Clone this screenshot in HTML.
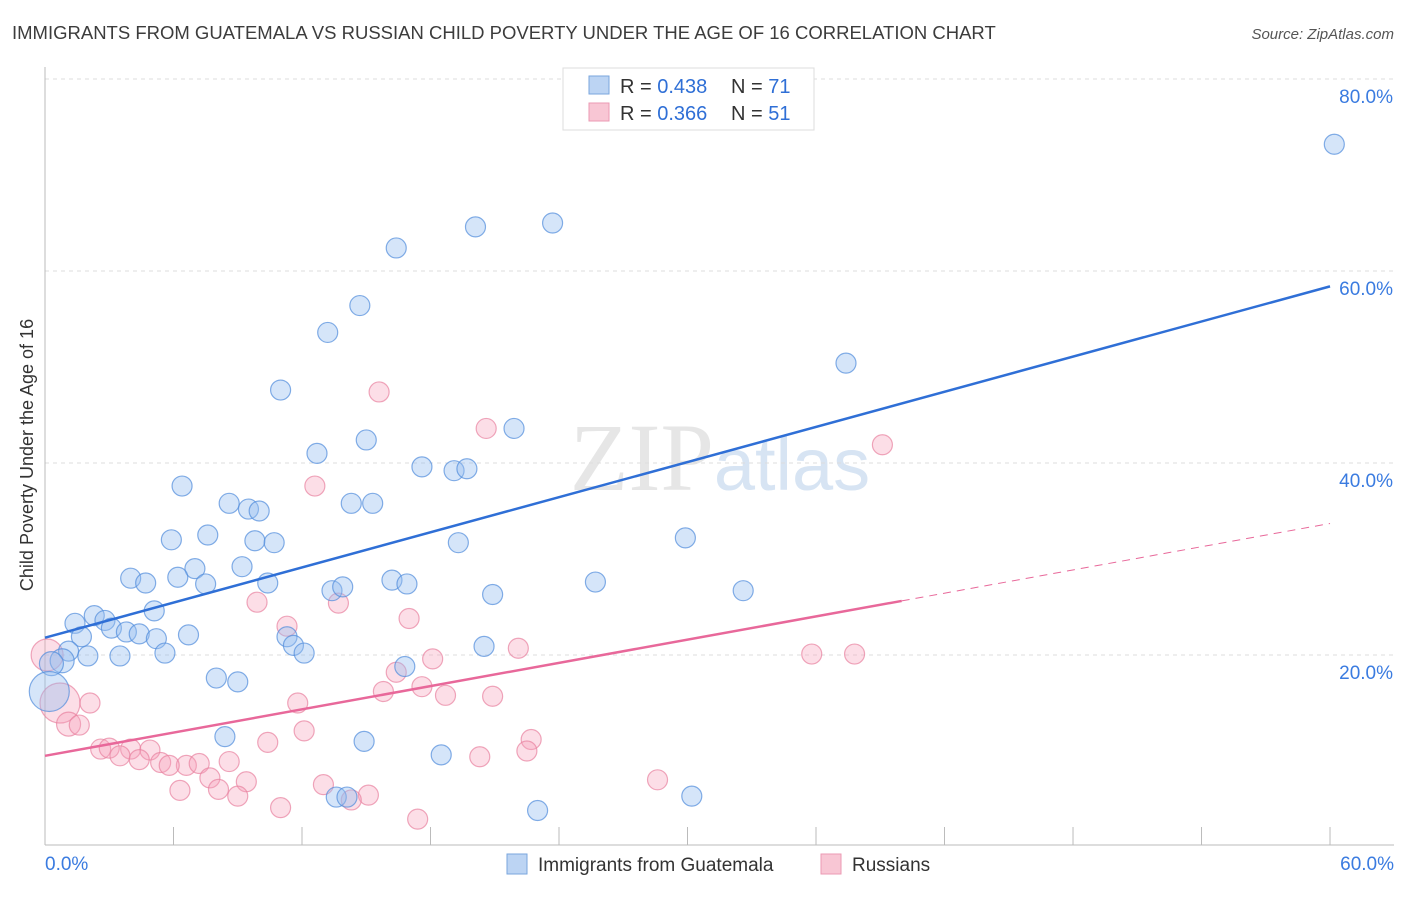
<!DOCTYPE html>
<html><head><meta charset="utf-8"><style>
body{margin:0;background:#fff;font-family:"Liberation Sans",sans-serif}
</style></head><body>
<svg id="chart" width="1406" height="892" xmlns="http://www.w3.org/2000/svg" font-family="Liberation Sans, sans-serif">
<text x="12" y="39" font-size="18.5" fill="#3c3c3c">IMMIGRANTS FROM GUATEMALA VS RUSSIAN CHILD POVERTY UNDER THE AGE OF 16 CORRELATION CHART</text>
<text x="1394" y="39" font-size="15" fill="#555" text-anchor="end" font-style="italic">Source: ZipAtlas.com</text>
<text x="720" y="490" font-size="96" text-anchor="middle" fill="#e6e6e6" font-family="Liberation Serif, serif">ZIP<tspan fill="#d7e4f3" font-family="Liberation Sans, sans-serif" font-size="74">atlas</tspan></text>
<g id="grid"></g>
<g id="axes"></g>
<g id="pts"></g>
<g id="lines"></g>
<text transform="translate(33,455) rotate(-90)" font-size="18" fill="#333" text-anchor="middle">Child Poverty Under the Age of 16</text>
<g>
<rect x="563" y="68" width="251" height="62" fill="#fff" stroke="#ddd"/>
<rect x="589" y="76" width="20" height="18" fill="#bcd4f3" stroke="#7aa6de"/>
<text x="620" y="93" font-size="20" fill="#333">R = <tspan fill="#2f6fd6">0.438</tspan></text>
<text x="731" y="93" font-size="20" fill="#333">N = <tspan fill="#2f6fd6">71</tspan></text>
<rect x="589" y="103" width="20" height="18" fill="#f8c6d4" stroke="#eb9ab3"/>
<text x="620" y="120" font-size="20" fill="#333">R = <tspan fill="#2f6fd6">0.366</tspan></text>
<text x="731" y="120" font-size="20" fill="#333">N = <tspan fill="#2f6fd6">51</tspan></text>
</g>
<g>
<rect x="507" y="854" width="20" height="20" fill="#bcd4f3" stroke="#7aa6de"/>
<text x="538" y="871" font-size="19" fill="#333">Immigrants from Guatemala</text>
<rect x="821" y="854" width="20" height="20" fill="#f8c6d4" stroke="#eb9ab3"/>
<text x="852" y="871" font-size="19" fill="#333">Russians</text>
</g>
</svg>
<script>
const yTicks=[20,40,60,80];
const yTickLabels=["20.0%","40.0%","60.0%","80.0%"];
const xTickLabels=["0.0%","60.0%"];
const blueX=[60.2,23.7,20.1,16.4,14.7,13.2,37.4,11.0,21.9,15.0,12.7,17.6,19.1,19.7,6.4,8.6,14.3,15.3,9.5,10.0,7.6,5.9,9.8,10.7,19.3,29.9,9.2,7.0,4.0,4.7,6.2,7.5,10.4,13.4,13.9,16.2,16.9,25.7,20.9,32.6,5.1,2.3,2.8,1.4,3.1,3.8,4.4,1.7,5.2,6.7,11.3,11.6,12.1,20.5,1.1,0.8,2.0,3.5,5.6,0.3,16.8,8.0,9.0,0.2,8.4,14.9,18.5,13.6,14.1,30.2,23.0];
const blueY=[73.2,65.0,64.6,62.4,56.4,53.6,50.4,47.6,43.6,42.4,41.0,39.6,39.2,39.4,37.6,35.8,35.8,35.8,35.2,35.0,32.5,32.0,31.9,31.7,31.7,32.2,29.2,29.0,28.0,27.5,28.1,27.4,27.5,26.7,27.1,27.8,27.4,27.6,26.3,26.7,24.6,24.1,23.6,23.3,22.8,22.4,22.2,21.9,21.7,22.1,21.9,21.0,20.2,20.9,20.4,19.4,19.9,19.9,20.2,19.1,18.8,17.6,17.2,16.2,11.5,11.0,9.6,5.2,5.2,5.3,3.8];
const blueR=[10,10,10,10,10,10,10,10,10,10,10,10,10,10,10,10,10,10,10,10,10,10,10,10,10,10,10,10,10,10,10,10,10,10,10,10,10,10,10,10,10,10,10,10,10,10,10,10,10,10,10,10,10,10,10,12,10,10,10,12,10,10,10,20,10,10,10,10,10,10,10];
const pinkX=[15.6,20.6,39.1,12.6,9.9,13.7,17.0,11.3,22.1,35.8,37.8,18.1,16.4,17.6,15.8,18.7,20.9,11.8,2.1,0.7,1.1,1.6,12.1,22.7,10.4,2.6,3.0,4.0,4.9,22.5,3.5,4.4,5.4,6.6,7.2,8.6,20.3,5.8,7.7,9.4,13.0,28.6,6.3,8.1,9.0,15.1,14.3,11.0,17.4,0.1];
const pinkY=[47.4,43.6,41.9,37.6,25.5,25.4,23.8,23.0,20.7,20.1,20.1,19.6,18.2,16.7,16.2,15.8,15.7,15.0,15.0,15.0,12.8,12.7,12.1,11.2,10.9,10.2,10.3,10.2,10.1,10.0,9.5,9.1,8.8,8.5,8.7,8.9,9.4,8.5,7.2,6.8,6.5,7.0,5.9,6.0,5.3,5.4,4.9,4.1,2.9,20.0];
const pinkR=[10,10,10,10,10,10,10,10,10,10,10,10,10,10,10,10,10,10,10,20,12,10,10,10,10,10,10,10,10,10,10,10,10,10,10,10,10,10,10,10,10,10,10,10,10,10,10,10,10,16];
const blueFit=[21.8,58.4];
const pinkFit=[9.5,33.7];
const pinkSolidEnd=40;
const xs=v=>45+v*21.417, ys=v=>847-v*9.6;
const NS="http://www.w3.org/2000/svg";
function mk(t,a,p){const e=document.createElementNS(NS,t);for(const k in a)e.setAttribute(k,a[k]);p.appendChild(e);return e;}
const grid=document.getElementById('grid'),axes=document.getElementById('axes'),pts=document.getElementById('pts'),lines=document.getElementById('lines');
yTicks.forEach((t,i)=>{
 const l=mk('line',{x1:45,x2:1394,y1:ys(t),y2:ys(t),stroke:'#ddd','stroke-dasharray':'4,4'},grid);
 
 
 const tx=mk('text',{x:1393,y:ys(t)+24,'font-size':19,fill:'#3a7be0','text-anchor':'end'},axes);
 tx.textContent=yTickLabels[i];
 
 
});
mk('line',{x1:45,x2:45,y1:67,y2:845,stroke:'#bbb'},axes);
mk('line',{x1:45,x2:1394,y1:845,y2:845,stroke:'#bbb'},axes);
for(let i=1;i<=10;i++){const x=xs(i*6);mk('line',{x1:x,x2:x,y1:827,y2:845,stroke:'#bbb'},axes);}
[[0,'start',45],[60,'end',1394]].forEach((d,i)=>{
 const tx=mk('text',{x:d[2],y:870,'font-size':19,fill:'#3a7be0','text-anchor':d[1]},axes);
 tx.textContent=xTickLabels[i];
 
 
});
pinkX.forEach((v,i)=>{
 const c=mk('circle',{cx:xs(v),cy:ys(pinkY[i]),r:pinkR[i],fill:'rgba(245,160,185,0.35)',stroke:'rgba(232,130,160,0.7)','stroke-width':1.2},pts);
 
 
});
blueX.forEach((v,i)=>{
 const c=mk('circle',{cx:xs(v),cy:ys(blueY[i]),r:blueR[i],fill:'rgba(150,190,240,0.4)',stroke:'rgba(80,140,220,0.7)','stroke-width':1.2},pts);
 
 
});
const bl=mk('line',{x1:xs(0),y1:ys(blueFit[0]),x2:xs(60),y2:ys(blueFit[1]),stroke:'#2f6fd6','stroke-width':2.5},lines);


const pe=pinkFit[0]+(pinkFit[1]-pinkFit[0])*pinkSolidEnd/60;
const pl=mk('line',{x1:xs(0),y1:ys(pinkFit[0]),x2:xs(pinkSolidEnd),y2:ys(pe),stroke:'#e8689a','stroke-width':2.5},lines);


const pd=mk('line',{x1:xs(pinkSolidEnd),y1:ys(pe),x2:xs(60),y2:ys(pinkFit[1]),stroke:'#e8689a','stroke-width':1,'stroke-dasharray':'8,6'},lines);


</script>
</body></html>
